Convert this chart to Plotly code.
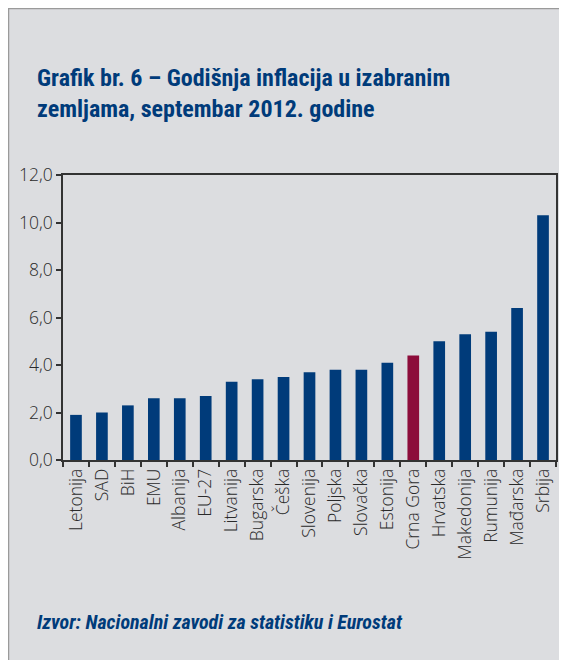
import plotly.graph_objects as go

countries = ["Letonija", "SAD", "BiH", "EMU", "Albanija", "EU-27", "Litvanija", "Bugarska",
             "Češka", "Slovenija", "Poljska", "Slovačka", "Estonija", "Crna Gora", "Hrvatska",
             "Makedonija", "Rumunija", "Mađarska", "Srbija"]
inflation = [1.9, 2.0, 2.3, 2.6, 2.6, 2.7, 3.3, 3.4, 3.5, 3.7, 3.8, 3.8, 4.1, 4.4, 5.0, 5.3, 5.4, 6.4, 10.3]
highlight = "Crna Gora"
y_ticks = [0, 2, 4, 6, 8, 10, 12]

NAVY = "#003B7A"
RED = "#8C0C3A"
colors = [RED if c == highlight else NAVY for c in countries]

OFF = 8  # page body margin
W, H = 567 - 2 * OFF, 668 - 2 * OFF
L, R, T, B = 63 - OFF, 556 - OFF, 175 - OFF, 460 - OFF  # plot area in figure pixels

def px(x):  # x given in reference page pixels
    return (x - OFF - L) / (R - L)

def py(y):
    return (B - (y - OFF)) / (B - T)

tick_font = dict(family="Open Sans, Noto Sans, sans-serif", size=17.5, color="#2A2A2A", weight=300)

fig = go.Figure(go.Bar(x=countries, y=inflation, marker_color=colors, marker_line_width=0,
                       width=0.45))

fig.update_layout(
    width=W, height=H,
    margin=dict(l=L, r=W - R, t=T, b=H - B, pad=0),
    paper_bgcolor="#DCDDE0",
    plot_bgcolor="rgba(0,0,0,0)",
    separators=",.",
    showlegend=False,
    font=dict(family="Open Sans, Noto Sans, sans-serif", color="#333333"),
    xaxis=dict(showline=True, linecolor="#333333", linewidth=1.5, mirror=True,
               ticks="outside", tickson="boundaries", ticklen=5, tickwidth=1.5, tickcolor="#333333",
               tickangle=-90, tickfont=tick_font, showgrid=False,
               fixedrange=True, automargin=False),
    yaxis=dict(range=[0, 12], tickvals=y_ticks, tickformat=".1f", showline=True,
               linecolor="#333333", linewidth=1.5, mirror=True, ticks="outside", ticklen=5,
               tickwidth=1.5, tickcolor="#333333", tickfont=tick_font,
               showgrid=False, zeroline=False, automargin=False),
    shapes=[dict(type="rect", xref="paper", yref="paper", layer="below",
                 x0=px(8.5), x1=px(700), y0=py(800), y1=py(8.5),
                 fillcolor="#DCDDE0", line=dict(color="#9A9A9A", width=1.5))],
    annotations=[
        dict(xref="paper", yref="paper", x=px(35), y=py(62), xanchor="left", yanchor="top",
             align="left", showarrow=False,
             text="<b>Grafik br. 6 – Godišnja inflacija u izabranim<br>zemljama, septembar 2012. godine</b>",
             font=dict(family="Liberation Sans Narrow, Roboto Condensed, Open Sans, sans-serif",
                       size=24, color="#003B7A")),
        dict(xref="paper", yref="paper", x=px(35), y=py(622), xanchor="left", yanchor="middle",
             align="left", showarrow=False,
             text="<b><i>Izvor: Nacionalni zavodi za statistiku i Eurostat</i></b>",
             font=dict(family="Liberation Sans Narrow, Roboto Condensed, Open Sans, sans-serif",
                       size=20, color="#003B7A")),
    ],
)

fig.write_html("out.html")
